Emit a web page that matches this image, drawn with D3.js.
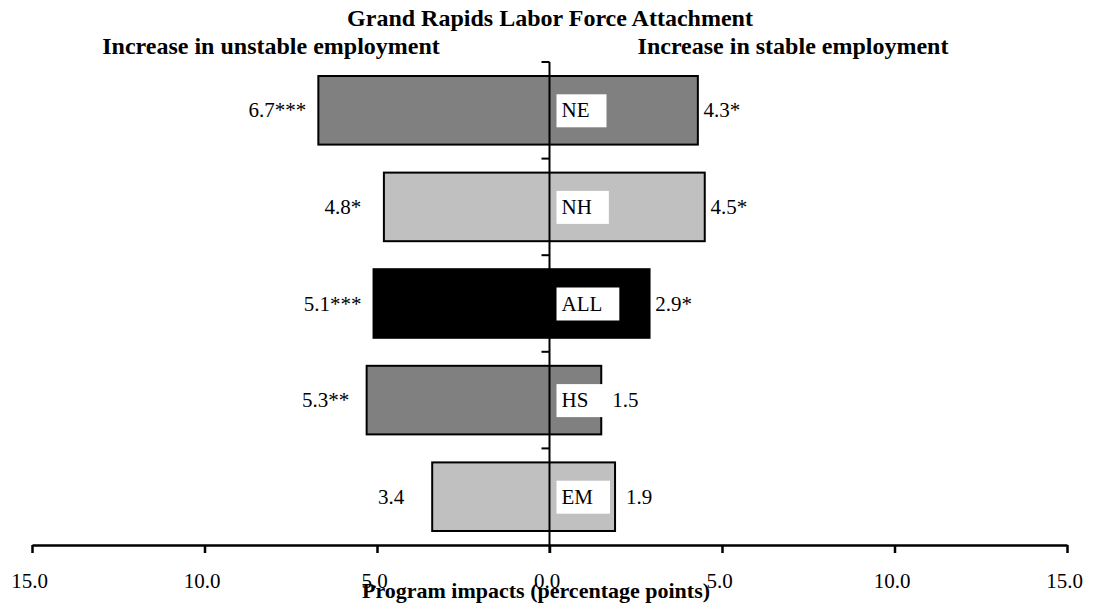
<!DOCTYPE html>
<html>
<head>
<meta charset="utf-8">
<script src="https://cdn.jsdelivr.net/npm/d3@7"></script>
<style>
  body { margin: 0; background: #fff; }
  text { font-family: "Liberation Serif", "Times New Roman", serif; fill: #000; }
</style>
</head>
<body>
<div id="chart"></div>
<script>
var groups = ["NE", "NH", "ALL", "HS", "EM"];
var unstable = [6.7, 4.8, 5.1, 5.3, 3.4];
var unstableStars = ["***", "*", "***", "**", ""];
var stable = [4.3, 4.5, 2.9, 1.5, 1.9];
var stableStars = ["*", "*", "*", "", ""];
var fills = ["#808080", "#c0c0c0", "#000000", "#808080", "#c0c0c0"];
var xTicks = [-15, -10, -5, 0, 5, 10, 15];

var width = 1095, height = 614;

var svg = d3.select("#chart")
  .append("svg")
    .attr("width", width)
    .attr("height", height);

var x = d3.scaleLinear()
  .domain([-15, 15])
  .range([32, 1067]);

var y = d3.scaleBand()
  .domain(groups)
  .range([62, 545])
  .paddingInner(0.29)
  .paddingOuter(0.145);

var data = groups.map(function (g, i) {
  return {name: g, left: unstable[i], leftStars: unstableStars[i],
          right: stable[i], rightStars: stableStars[i], fill: fills[i]};
});

// titles
svg.append("text")
  .attr("x", 550).attr("y", 26)
  .attr("text-anchor", "middle")
  .style("font-size", "24px").style("font-weight", "bold")
  .text("Grand Rapids Labor Force Attachment");
svg.append("text")
  .attr("x", 271).attr("y", 54)
  .attr("text-anchor", "middle")
  .style("font-size", "24px").style("font-weight", "bold")
  .text("Increase in unstable employment");
svg.append("text")
  .attr("x", 793).attr("y", 54)
  .attr("text-anchor", "middle")
  .style("font-size", "24px").style("font-weight", "bold")
  .text("Increase in stable employment");

// bars
svg.append("g")
  .selectAll("rect")
  .data(data)
  .enter()
  .append("rect")
    .attr("x", function (d) { return x(-d.left); })
    .attr("y", function (d) { return y(d.name); })
    .attr("width", function (d) { return x(d.right) - x(-d.left); })
    .attr("height", y.bandwidth())
    .style("fill", function (d) { return d.fill; })
    .style("stroke", "#000")
    .style("stroke-width", 2);

// center axis with ticks at band edges
var x0 = x(0);
var edges = d3.range(groups.length + 1).map(function (i) {
  return y.range()[0] + i * y.step();
});
var mid = svg.append("g");
mid.append("line")
  .attr("x1", x0).attr("x2", x0)
  .attr("y1", edges[0]).attr("y2", edges[edges.length - 1] + 8)
  .style("stroke", "#000").style("stroke-width", 2);
mid.selectAll(".edge")
  .data(edges.slice(0, -1))
  .enter()
  .append("line")
    .attr("x1", x0 - 8).attr("x2", x0)
    .attr("y1", function (d) { return d; })
    .attr("y2", function (d) { return d; })
    .style("stroke", "#000").style("stroke-width", 2);

// value labels
var labels = svg.append("g").style("font-size", "21px");
labels.selectAll(".lv")
  .data(data)
  .enter()
  .append("text")
    .attr("x", function (d) { return x(-d.left) - 41; })
    .attr("y", function (d) { return y(d.name) + y.bandwidth() / 2 + 7; })
    .attr("text-anchor", "middle")
    .text(function (d) { return d.left.toFixed(1) + d.leftStars; });
labels.selectAll(".rv")
  .data(data)
  .enter()
  .append("text")
    .attr("x", function (d) { return x(d.right) + 24; })
    .attr("y", function (d) { return y(d.name) + y.bandwidth() / 2 + 7; })
    .attr("text-anchor", "middle")
    .text(function (d) { return d.right.toFixed(1) + d.rightStars; });

// group name boxes
var names = svg.append("g")
  .selectAll("g")
  .data(data)
  .enter()
  .append("g");
names.append("rect")
  .style("fill", "#fff");
names.append("text")
  .style("font-size", "21px")
  .attr("x", x0 + 12)
  .attr("y", function (d) { return y(d.name) + y.bandwidth() / 2 + 7; })
  .text(function (d) { return d.name; });
names.each(function () {
  var g = d3.select(this);
  var t = g.select("text");
  var w = t.node().getComputedTextLength();
  var cy = +t.attr("y") - 7;
  g.select("rect")
    .attr("x", x0 + 7)
    .attr("y", cy - 16)
    .attr("width", w + 22)
    .attr("height", 33);
});

// bottom axis
var xAxis = svg.append("g")
  .attr("transform", "translate(0,545)")
  .call(d3.axisBottom(x)
    .tickValues(xTicks)
    .tickSize(8)
    .tickSizeOuter(0)
    .tickFormat(function (d) { return Math.abs(d).toFixed(1); }));
xAxis.select(".domain").style("stroke-width", 2.5);
xAxis.selectAll(".tick line").style("stroke-width", 2.5);
xAxis.selectAll(".tick text")
  .attr("y", 43).attr("dy", 0).attr("dx", -3)
  .style("font-size", "21px")
  .style("font-family", "'Liberation Serif', 'Times New Roman', serif");

svg.append("text")
  .attr("x", 536).attr("y", 598)
  .attr("text-anchor", "middle")
  .style("font-size", "22px").style("font-weight", "bold")
  .text("Program impacts (percentage points)");
</script>
</body>
</html>
